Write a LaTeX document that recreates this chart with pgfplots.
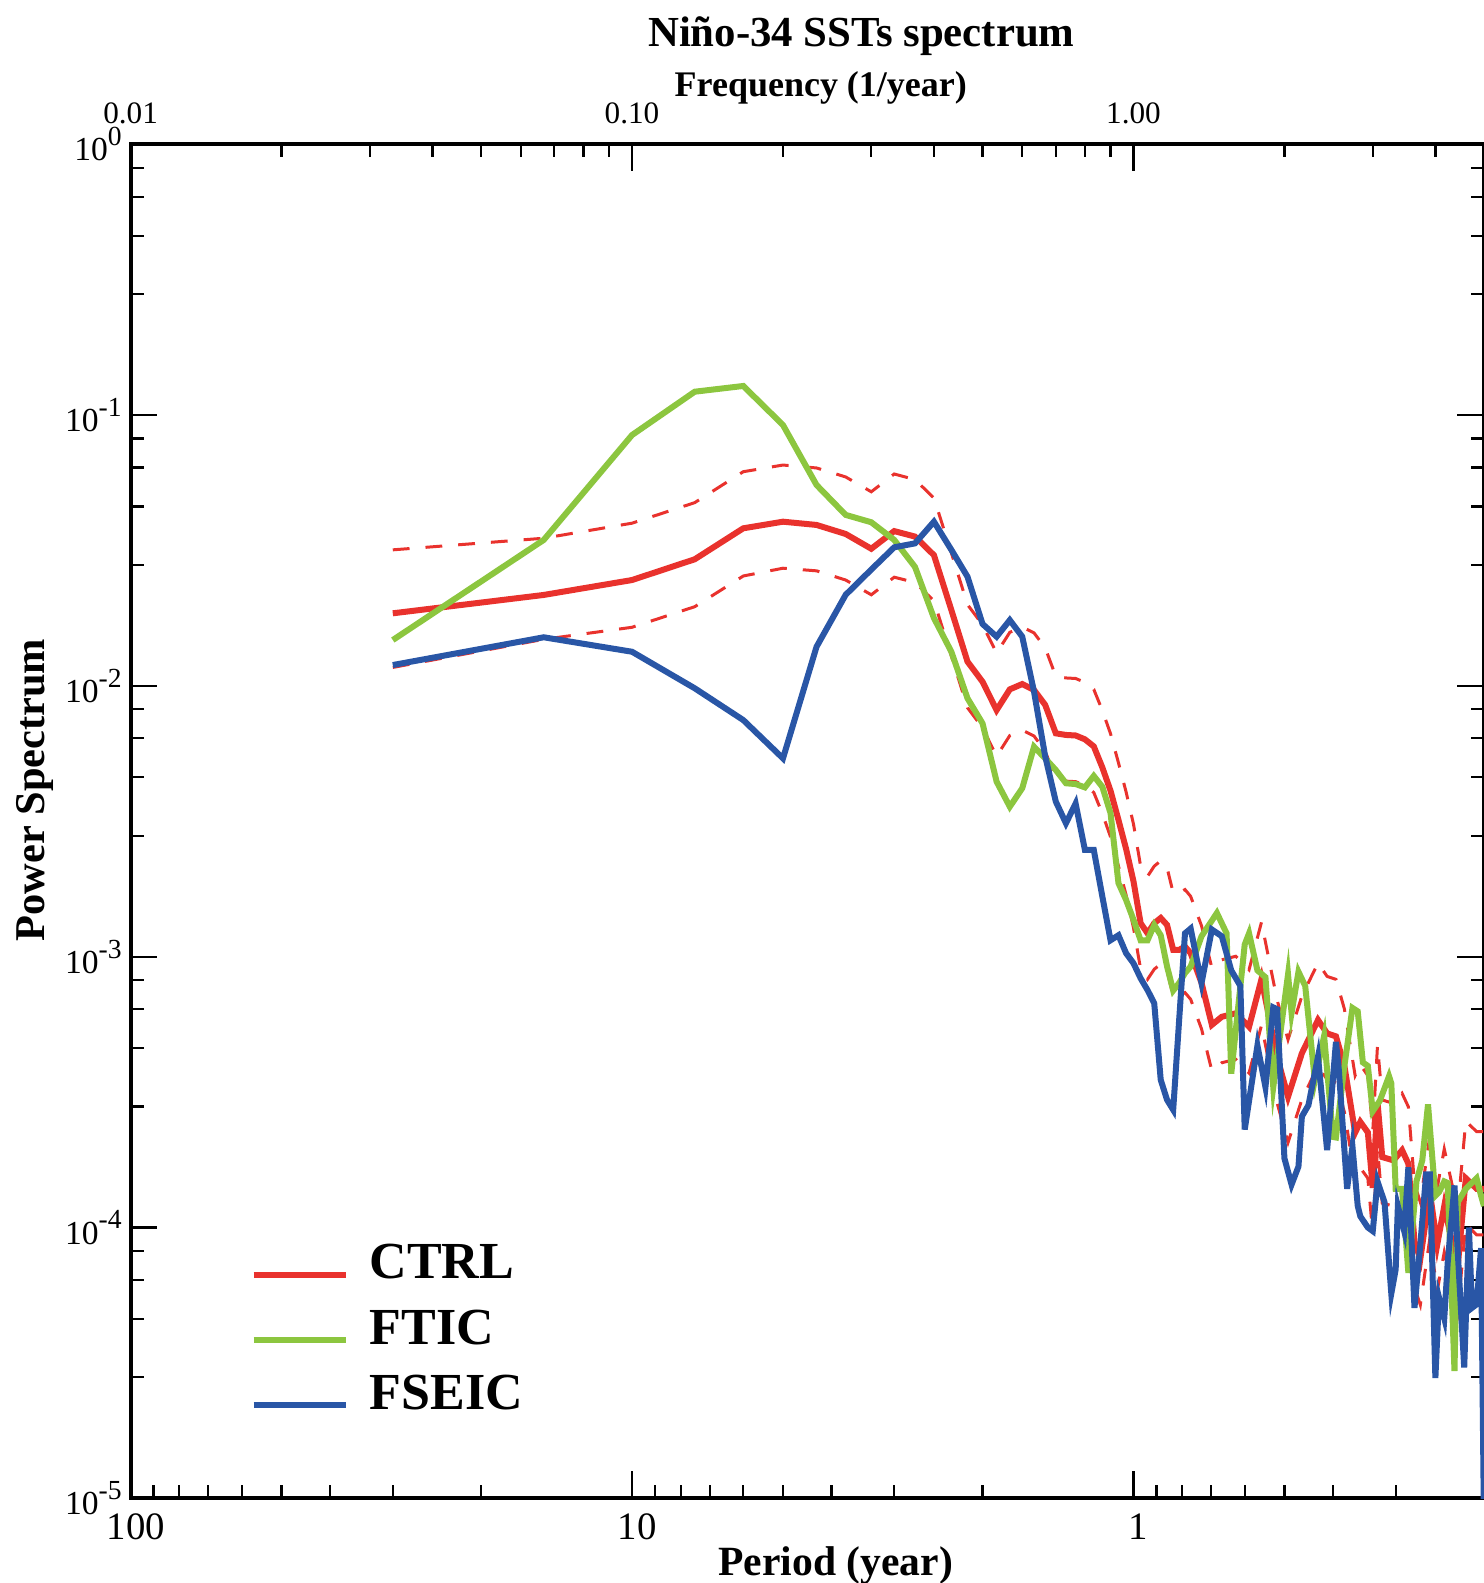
\documentclass[border=0pt]{standalone}
\usepackage{fontspec}
\setmainfont{Liberation Serif}
\usepackage{pgfplots}
\usepackage{pgfplotstable}
\pgfplotsset{compat=1.18}
\usetikzlibrary{calc}
\definecolor{ctrlred}{HTML}{E9322D}
\definecolor{fticgreen}{HTML}{8CC63F}
\definecolor{fseicblue}{HTML}{2956A6}
\newcommand{\tento}[1]{10\raisebox{3.8pt}{\fontsize{6.9pt}{7pt}\selectfont#1}}

% CTRL spectrum with lower/upper confidence bounds (period in years)
\pgfplotstableread{
p v lo hi
30 0.01854 0.0117 0.0318
15 0.02167 0.01486 0.0351
10 0.0246 0.01646 0.0399
7.5 0.02935 0.01961 0.0475
6 0.0382 0.02546 0.0618
5 0.0404 0.0272 0.0654
4.2857 0.0393 0.0266 0.0638
3.75 0.0364 0.0246 0.0591
3.3333 0.0321 0.0217 0.0521
3 0.0373 0.0252 0.0606
2.7273 0.0356 0.0241 0.0578
2.5 0.0304 0.0206 0.0494
2.3077 0.01906 0.01288 0.0310
2.1429 0.01229 0.00831 0.01996
2 0.01036 0.0070 0.01682
1.875 0.00814 0.0055 0.01322
1.7647 0.00971 0.00656 0.01577
1.6667 0.01016 0.00687 0.0165
1.5789 0.00966 0.00653 0.01569
1.5 0.00851 0.00575 0.01382
1.4286 0.00668 0.00452 0.01085
1.3636 0.00659 0.00445 0.0107
1.3043 0.00656 0.00443 0.01065
1.25 0.00635 0.00429 0.01031
1.2 0.00598 0.00404 0.00971
1.1538 0.005 0.00338 0.00812
1.1111 0.0041 0.00277 0.00666
1.0714 0.0032 0.00216 0.0052
1.0345 0.0025 0.00169 0.00406
1 0.0019 0.00128 0.00309
0.9677 0.00133 0.000899 0.00216
0.9375 0.00122 0.000825 0.00198
0.9091 0.00133 0.000899 0.00216
0.8824 0.00139 0.00094 0.00226
0.8571 0.00131 0.000886 0.00213
0.8333 0.00106 0.000717 0.00172
0.8108 0.00106 0.000717 0.00172
0.7895 0.00109 0.000737 0.00177
0.7692 0.00103 0.000696 0.00167
0.7317 0.0008 0.000541 0.0013
0.6977 0.00056 0.000379 0.000909
0.6667 0.0006 0.000406 0.000974
0.625 0.000618 0.000418 0.001004
0.5882 0.000551 0.000372 0.000895
0.5556 0.000826 0.000558 0.001341
0.5172 0.000427 0.000289 0.000693
0.4918 0.000304 0.000206 0.000494
0.4615 0.00044 0.000297 0.000715
0.4286 0.000584 0.000395 0.000948
0.4110 0.000521 0.000352 0.000846
0.3947 0.000508 0.000343 0.000825
0.3797 0.000395 0.000267 0.000641
0.3614 0.000224 0.000151 0.000364
0.3529 0.0002455 0.000166 0.000399
0.3409 0.0002244 0.000152 0.000364
0.3333 0.00014 0.0000946 0.000227
0.3261 0.00029 0.000196 0.000471
0.3191 0.000182 0.000123 0.000296
0.3030 0.000177 0.00012 0.000287
0.2913 0.000193 0.00013 0.000313
0.2830 0.000172 0.000116 0.000279
0.2752 0.000089 0.0000602 0.000145
0.2679 0.0000766 0.0000518 0.000124
0.2564 0.000135 0.0000913 0.000219
0.2479 0.0000864 0.0000584 0.00014
0.24 0.00012 0.0000811 0.000195
0.2308 0.000086 0.0000581 0.00014
0.2256 0.000072 0.0000487 0.000117
0.2174 0.000152 0.000103 0.000247
0.2069 0.000139 0.000094 0.000226
0.2 0.000139 0.000094 0.000226
}\ctrl

\pgfplotstableread{
p v
30 0.01477
15 0.0346
10 0.0844
7.5 0.1220
6 0.1281
5 0.0919
4.2857 0.0552
3.75 0.0428
3.3333 0.0402
3 0.0346
2.7273 0.0275
2.5 0.0178
2.3077 0.01337
2.1429 0.0090
2 0.00727
1.875 0.00443
1.7647 0.00358
1.6667 0.00419
1.5789 0.00596
1.5 0.0054
1.4286 0.00489
1.3636 0.00437
1.3043 0.00434
1.25 0.00422
1.2 0.00465
1.1538 0.00424
1.1111 0.00339
1.0714 0.00187
1.0345 0.00162
1 0.00137
0.9677 0.00115
0.9375 0.00115
0.9091 0.00131
0.8824 0.00120
0.8571 0.00092
0.8333 0.00075
0.8108 0.0008
0.7895 0.00087
0.7692 0.00092
0.7317 0.00119
0.6818 0.00145
0.6522 0.00122
0.6383 0.00037
0.6 0.00111
0.5882 0.00122
0.5660 0.00089
0.5455 0.00084
0.5263 0.00033
0.4918 0.00086
0.4839 0.00062
0.4688 0.00088
0.4545 0.00078
0.4348 0.00035
0.4167 0.00051
0.4 0.000216
0.3947 0.000215
0.3797 0.000395
0.3659 0.000647
0.3571 0.000628
0.3488 0.000407
0.3409 0.000395
0.3333 0.000269
0.3226 0.000294
0.3093 0.000362
0.3061 0.000341
0.3 0.000139
0.2913 0.000139
0.2830 0.000068
0.2727 0.000148
0.2655 0.000177
0.2586 0.000285
0.25 0.000131
0.2459 0.000135
0.24 0.000148
0.2362 0.000146
0.2290 0.0000295
0.2256 0.000124
0.2174 0.000139
0.2069 0.000152
0.2027 0.000131
0.2 0.00012
}\ftic

\pgfplotstableread{
p v
30 0.01194
15 0.01512
10 0.01337
7.5 0.0098
6 0.00748
5 0.0054
4.2857 0.01395
3.75 0.0217
3.3333 0.0269
3 0.0325
2.7273 0.0336
2.5 0.0404
2.3077 0.0318
2.1429 0.0253
2 0.01693
1.875 0.0152
1.7647 0.0175
1.6667 0.0152
1.5789 0.00952
1.5 0.0055
1.4286 0.00374
1.3636 0.00311
1.3043 0.00368
1.25 0.00248
1.2 0.00248
1.1538 0.00167
1.1111 0.00115
1.0714 0.00120
1.0345 0.00103
1 0.000946
0.9677 0.000832
0.9375 0.000753
0.9091 0.000673
0.8824 0.000351
0.8571 0.000296
0.8333 0.000272
0.8108 0.000584
0.7895 0.00122
0.7692 0.00127
0.7317 0.00080
0.6977 0.00126
0.6667 0.00119
0.6383 0.00089
0.6122 0.00078
0.6 0.00023
0.5660 0.00047
0.5455 0.00033
0.5263 0.00065
0.5172 0.00064
0.5 0.00018
0.4839 0.000144
0.4688 0.000168
0.4615 0.000257
0.4478 0.000283
0.4286 0.000427
0.4110 0.000193
0.3947 0.000485
0.3896 0.000384
0.375 0.000139
0.3659 0.000199
0.3571 0.00012
0.3529 0.00011
0.3409 0.0001
0.3333 0.000097
0.3261 0.000148
0.3158 0.000124
0.3061 0.000057
0.3 0.00007
0.2970 0.00012
0.2885 0.000097
0.2830 0.000167
0.2752 0.0000505
0.2679 0.0000864
0.2609 0.000157
0.2564 0.000157
0.25 0.0000278
0.2459 0.0000552
0.24 0.0000462
0.2362 0.0000744
0.2290 0.000143
0.2256 0.0000813
0.2190 0.0000304
0.2143 0.0001
0.2113 0.0000505
0.2069 0.000052
0.2027 0.0000839
0.2 0.000008
}\fseic

\begin{document}
\begin{tikzpicture}
\begin{axis}[name=main, scale only axis, width=338.35pt, height=338.5pt,
  xmode=log, ymode=log, x dir=reverse,
  xmin=0.2, xmax=100, ymin=1e-5, ymax=1,
  axis line style={line width=1pt},
  every tick/.style={black, line width=0.55pt},
  major tick length=6.75pt, minor tick length=3.3pt,
  xtick={1,10,100}, xticklabels={1,10,100},
  minor xtick={0.3,0.4,0.5,0.6,0.7,0.8,0.9,2,3,4,5,6,7,8,9,20,30,40,50,60,70,80,90},
  xtick pos=bottom,
  xticklabel style={font=\fontsize{9.7pt}{11pt}\selectfont, anchor=base, yshift=-10.4pt, xshift=1.3pt},
  ytick={1e-5,1e-4,1e-3,1e-2,1e-1,1},
  yticklabels={\tento{-5},\tento{-4},\tento{-3},\tento{-2},\tento{-1},\tento{0}},
  minor ytick={2.8e-5,4.6e-5,6.4e-5,8.2e-5,2.8e-4,4.6e-4,6.4e-4,8.2e-4,2.8e-3,4.6e-3,6.4e-3,8.2e-3,2.8e-2,4.6e-2,6.4e-2,8.2e-2,0.28,0.46,0.64,0.82},
  ytick pos=both, yticklabel pos=left,
  yticklabel style={font=\fontsize{8.4pt}{9pt}\selectfont, anchor=east, xshift=1.3pt},
  xlabel={Period (year)},
  xlabel style={font=\bfseries\fontsize{10.4pt}{12pt}\selectfont, at={(axis description cs:0.521,0)}, anchor=base, yshift=-19.2pt},
  ylabel={Power Spectrum},
  ylabel style={font=\bfseries\fontsize{10.6pt}{12pt}\selectfont, at={(axis description cs:0,0.523)}, anchor=base, yshift=21.4pt},
  legend style={at={(axis description cs:0.0882,0.188)}, anchor=north west, draw=none, fill=none, inner sep=0pt,
    font=\bfseries\fontsize{13pt}{15pt}\selectfont, row sep=6.2pt, nodes={inner xsep=5.25pt, inner ysep=0pt}},
  legend cell align=left,
  legend image code/.code={\draw[#1, line width=1.5pt] (0pt,-2.5pt) -- (23pt,-2.5pt);},
]
\addplot[ctrlred, line width=0.75pt, dash pattern=on 4.2pt off 4pt, forget plot] table[x=p, y=lo] {\ctrl};
\addplot[ctrlred, line width=0.75pt, dash pattern=on 4.2pt off 4pt, forget plot] table[x=p, y=hi] {\ctrl};
\addplot[ctrlred, line width=1.5pt] table[x=p, y=v] {\ctrl};
\addlegendentry{CTRL}
\addplot[fticgreen, line width=1.5pt] table[x=p, y=v] {\ftic};
\addlegendentry{FTIC}
\addplot[fseicblue, line width=1.5pt] table[x=p, y=v] {\fseic};
\addlegendentry{FSEIC}
\end{axis}
\begin{axis}[scale only axis, width=338.35pt, height=338.5pt,
  xmode=log, xmin=0.01, xmax=5, ymin=0, ymax=1,
  axis x line*=top, axis y line=none,
  x axis line style={-, line width=1pt},
  every tick/.style={black, line width=0.55pt},
  major tick length=6.75pt, minor tick length=3.3pt,
  xtick={0.01,0.1,1}, xticklabels={0.01,0.10,1.00},
  minor xtick={0.02,0.03,0.04,0.05,0.06,0.07,0.08,0.09,0.2,0.3,0.4,0.5,0.6,0.7,0.8,0.9,2,3,4},
  xticklabel style={font=\fontsize{7.8pt}{8pt}\selectfont, anchor=base, yshift=5.25pt},
  xlabel={Frequency (1/year)},
  xlabel style={font=\bfseries\fontsize{9pt}{10pt}\selectfont, at={(axis description cs:0.510,1)}, anchor=base, yshift=11.9pt},
  title={Niño-34 SSTs spectrum},
  title style={font=\bfseries\fontsize{10.7pt}{12pt}\selectfont, at={(axis description cs:0.540,1)}, anchor=base, yshift=18.5pt},
]
\end{axis}
\pgfresetboundingbox
\path ($(main.south west)+(-32.65pt,-21.175pt)$) rectangle ($(main.north east)+(0pt,36.075pt)$);
\end{tikzpicture}
\end{document}
